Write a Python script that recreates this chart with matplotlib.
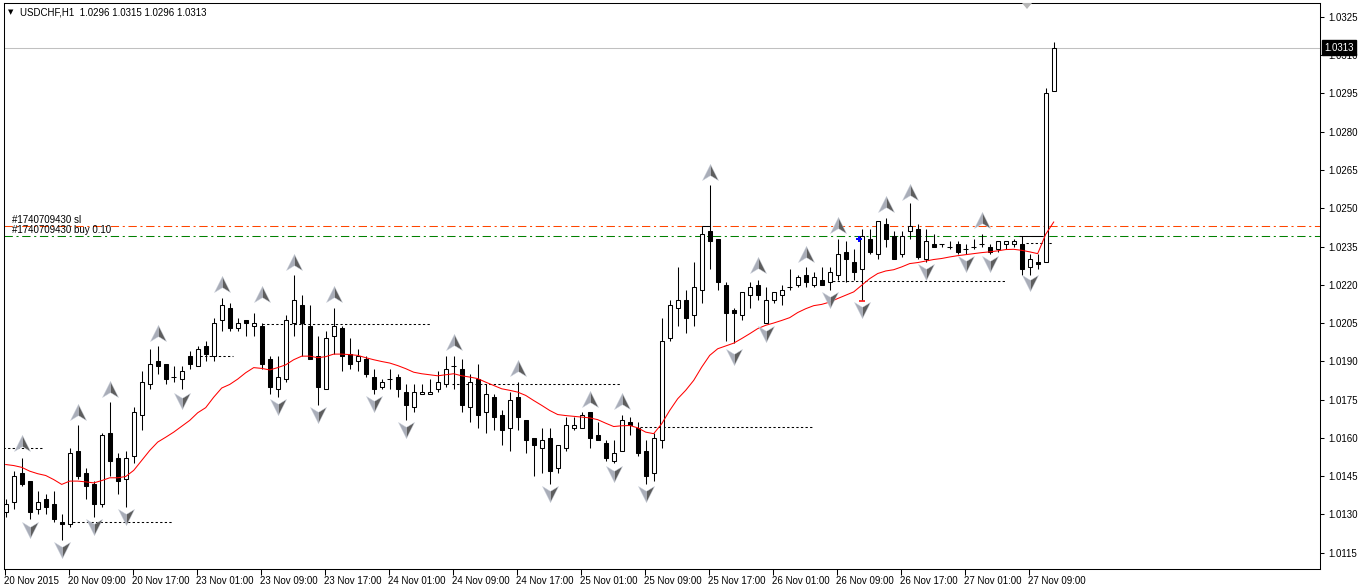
import matplotlib
matplotlib.use("Agg")
import matplotlib.pyplot as plt
import matplotlib.transforms as mtransforms
from matplotlib.patches import Rectangle, Polygon
from matplotlib.path import Path

plt.rcParams['font.family'] = ['Liberation Sans', 'DejaVu Sans']

# ---------------- data (USDCHF, H1) ----------------
opens = [1.0131, 1.0135, 1.0146, 1.0143, 1.0132, 1.0136, 1.0134, 1.0127, 1.0126, 1.0155,
         1.0146, 1.0142, 1.0134, 1.0162, 1.0152, 1.0144, 1.0153, 1.0169, 1.0181, 1.0190,
         1.0189, 1.0184, 1.0183, 1.0192, 1.0188, 1.0196, 1.0192, 1.0206, 1.0211, 1.0203,
         1.0206, 1.0204, 1.0204, 1.0191, 1.0179, 1.0183, 1.0205, 1.0212, 1.0204, 1.0192,
         1.0179, 1.0200, 1.0203, 1.0193, 1.0190, 1.0191, 1.0184, 1.0180, 1.0183, 1.0184,
         1.0178, 1.0172, 1.0177, 1.0177, 1.0179, 1.0181, 1.0188, 1.0187, 1.0172, 1.0183,
         1.0170, 1.0176, 1.0169, 1.0164, 1.0176, 1.0167, 1.0160, 1.0156, 1.0160, 1.0148,
         1.0156, 1.0164, 1.0164, 1.0170, 1.0161, 1.0158, 1.0151, 1.0155, 1.0166, 1.0164,
         1.0155, 1.0146, 1.0159, 1.0199, 1.0211, 1.0214, 1.0208, 1.0218, 1.0241, 1.0238,
         1.0220, 1.0210, 1.0208, 1.0216, 1.0220, 1.0205, 1.0214, 1.0216, 1.0219, 1.0220,
         1.0224, 1.0220, 1.0222, 1.0221, 1.0224, 1.0233, 1.0229, 1.0226, 1.0238, 1.0232,
         1.0244, 1.0239, 1.0232, 1.0241, 1.0242, 1.0230, 1.0236, 1.0236, 1.0235, 1.0236,
         1.0234, 1.0235, 1.0236, 1.0235, 1.0234, 1.0236, 1.0236, 1.0236, 1.0227, 1.0229,
         1.0229, 1.0296]
highs = [1.0136, 1.0147, 1.0152, 1.0143, 1.0139, 1.0138, 1.0139, 1.0130, 1.0156, 1.0165,
         1.0148, 1.0143, 1.0162, 1.0174, 1.0154, 1.0155, 1.0172, 1.0186, 1.0195, 1.0196,
         1.0189, 1.0188, 1.0188, 1.0194, 1.0196, 1.0198, 1.0207, 1.0215, 1.0213, 1.0207,
         1.0206, 1.0209, 1.0205, 1.0192, 1.0192, 1.0208, 1.0224, 1.0216, 1.0212, 1.0200,
         1.0202, 1.0211, 1.0204, 1.0199, 1.0195, 1.0192, 1.0187, 1.0183, 1.0187, 1.0185,
         1.0181, 1.0181, 1.0181, 1.0183, 1.0186, 1.0192, 1.0192, 1.0191, 1.0185, 1.0189,
         1.0181, 1.0177, 1.0171, 1.0178, 1.0182, 1.0167, 1.0160, 1.0164, 1.0164, 1.0157,
         1.0168, 1.0168, 1.0170, 1.0170, 1.0166, 1.0159, 1.0159, 1.0169, 1.0168, 1.0166,
         1.0159, 1.0162, 1.0207, 1.0214, 1.0227, 1.0218, 1.0229, 1.0243, 1.0259, 1.0238,
         1.0221, 1.0211, 1.0217, 1.0221, 1.0222, 1.0219, 1.0217, 1.0220, 1.0226, 1.0224,
         1.0227, 1.0225, 1.0227, 1.0227, 1.0238, 1.0237, 1.0234, 1.0242, 1.0242, 1.0245,
         1.0246, 1.0241, 1.0241, 1.0252, 1.0244, 1.0242, 1.0240, 1.0236, 1.0237, 1.0237,
         1.0236, 1.0238, 1.0240, 1.0236, 1.0237, 1.0237, 1.0238, 1.0239, 1.0232, 1.0232,
         1.0297, 1.0315]
lows = [1.0129, 1.0132, 1.0141, 1.0128, 1.0130, 1.0130, 1.0127, 1.0120, 1.0125, 1.0144,
        1.0136, 1.0129, 1.0133, 1.0145, 1.0138, 1.0133, 1.0150, 1.0163, 1.0179, 1.0185,
        1.0181, 1.0182, 1.0179, 1.0187, 1.0188, 1.0190, 1.0190, 1.0202, 1.0202, 1.0202,
        1.0200, 1.0200, 1.0187, 1.0177, 1.0176, 1.0182, 1.0200, 1.0192, 1.0191, 1.0173,
        1.0179, 1.0193, 1.0186, 1.0187, 1.0186, 1.0184, 1.0177, 1.0179, 1.0179, 1.0176,
        1.0167, 1.0170, 1.0177, 1.0177, 1.0178, 1.0180, 1.0179, 1.0170, 1.0166, 1.0164,
        1.0162, 1.0163, 1.0157, 1.0155, 1.0163, 1.0154, 1.0145, 1.0146, 1.0142, 1.0146,
        1.0155, 1.0163, 1.0164, 1.0156, 1.0159, 1.0151, 1.0150, 1.0155, 1.0161, 1.0153,
        1.0142, 1.0143, 1.0156, 1.0198, 1.0204, 1.0201, 1.0204, 1.0213, 1.0226, 1.0218,
        1.0198, 1.0197, 1.0206, 1.0211, 1.0214, 1.0205, 1.0213, 1.0212, 1.0218, 1.0219,
        1.0219, 1.0219, 1.0220, 1.0218, 1.0222, 1.0221, 1.0222, 1.0214, 1.0232, 1.0230,
        1.0235, 1.0230, 1.0231, 1.0238, 1.0230, 1.0229, 1.0235, 1.0235, 1.0234, 1.0232,
        1.0232, 1.0234, 1.0235, 1.0232, 1.0233, 1.0234, 1.0235, 1.0224, 1.0224, 1.0226,
        1.0229, 1.0296]
closes = [1.0134, 1.0145, 1.0142, 1.0131, 1.0135, 1.0133, 1.0128, 1.0126, 1.0154, 1.0145,
          1.0141, 1.0134, 1.0161, 1.0151, 1.0143, 1.0152, 1.0170, 1.0182, 1.0189, 1.0188,
          1.0183, 1.0184, 1.0186, 1.0189, 1.0195, 1.0193, 1.0205, 1.0212, 1.0203, 1.0205,
          1.0205, 1.0205, 1.0189, 1.0180, 1.0184, 1.0206, 1.0214, 1.0205, 1.0191, 1.0180,
          1.0199, 1.0204, 1.0192, 1.0189, 1.0192, 1.0185, 1.0179, 1.0182, 1.0183, 1.0179,
          1.0173, 1.0178, 1.0178, 1.0178, 1.0182, 1.0187, 1.0188, 1.0173, 1.0182, 1.0169,
          1.0177, 1.0168, 1.0163, 1.0175, 1.0168, 1.0159, 1.0157, 1.0159, 1.0147, 1.0157,
          1.0165, 1.0165, 1.0169, 1.0160, 1.0159, 1.0152, 1.0154, 1.0167, 1.0165, 1.0154,
          1.0145, 1.0160, 1.0198, 1.0212, 1.0214, 1.0207, 1.0219, 1.0240, 1.0237, 1.0221,
          1.0209, 1.0209, 1.0217, 1.0219, 1.0216, 1.0214, 1.0217, 1.0218, 1.0219, 1.0223,
          1.0221, 1.0223, 1.0220, 1.0225, 1.0232, 1.0230, 1.0225, 1.0239, 1.0233, 1.0245,
          1.0238, 1.0230, 1.0239, 1.0243, 1.0231, 1.0237, 1.0235, 1.0236, 1.0235, 1.0233,
          1.0234, 1.0235, 1.0236, 1.0233, 1.0237, 1.0237, 1.0237, 1.0226, 1.0230, 1.0228,
          1.0295, 1.0313]

# red moving average
ma_values = [1.01495, 1.01491, 1.01484, 1.01469, 1.01459, 1.01452, 1.01436, 1.01417, 1.01430, 1.01430,
             1.01427, 1.01423, 1.01432, 1.01443, 1.01443, 1.01448, 1.01472, 1.01511, 1.01550, 1.01583,
             1.01602, 1.01622, 1.01645, 1.01668, 1.01698, 1.01718, 1.01759, 1.01795, 1.01809, 1.01830,
             1.01855, 1.01875, 1.01872, 1.01866, 1.01875, 1.01886, 1.01906, 1.01920, 1.01920, 1.01914,
             1.01918, 1.01928, 1.01928, 1.01926, 1.01923, 1.01914, 1.01906, 1.01899, 1.01893, 1.01883,
             1.01871, 1.01857, 1.01851, 1.01847, 1.01843, 1.01847, 1.01851, 1.01843, 1.01838, 1.01832,
             1.01818, 1.01805, 1.01792, 1.01786, 1.01779, 1.01766, 1.01746, 1.01727, 1.01707, 1.01691,
             1.01687, 1.01684, 1.01681, 1.01678, 1.01671, 1.01657, 1.01644, 1.01647, 1.01648, 1.01639,
             1.01622, 1.01616, 1.01655, 1.01707, 1.01753, 1.01786, 1.01825, 1.01877, 1.01923, 1.01949,
             1.01960, 1.01971, 1.01989, 1.02008, 1.02028, 1.02041, 1.02050, 1.02060, 1.02071, 1.02091,
             1.02106, 1.02118, 1.02123, 1.02132, 1.02146, 1.02159, 1.02172, 1.02198, 1.02224, 1.02244,
             1.02254, 1.02259, 1.02270, 1.02283, 1.02287, 1.02293, 1.02299, 1.02303, 1.02309, 1.02314,
             1.02318, 1.02322, 1.02326, 1.02329, 1.02333, 1.02338, 1.02339, 1.02335, 1.02329, 1.02322,
             1.02398, 1.02446]

# fractal arrows (bar index, price of the arrow icon)
up_bars = [2, 9, 13, 19, 27, 32, 36, 41, 56, 64, 73, 77, 88, 94, 100, 104, 110, 113, 122]
up_prices = [1.01578, 1.01700, 1.01792, 1.02011, 1.02202, 1.02165, 1.02289, 1.02165, 1.01975, 1.01875,
             1.01753, 1.01744, 1.02643, 1.02276, 1.02322, 1.02433, 1.02516, 1.02564, 1.02453]
down_bars = [3, 7, 11, 15, 22, 34, 39, 46, 50, 68, 76, 80, 91, 95, 103, 107, 115, 120, 123, 128]
down_prices = [1.01240, 1.01161, 1.01249, 1.01288, 1.01746, 1.01720, 1.01691, 1.01731, 1.01629, 1.01380,
               1.01459, 1.01380, 1.01916, 1.02008, 1.02139, 1.02100, 1.02250, 1.02283, 1.02283, 1.02205]

# dotted levels: start bar, end bar, price
level_start = [-0.3, 7.8, 24.3, 32.0, 55.8, 79.3, 102.8, 127.5]
level_end = [4.7, 20.8, 28.4, 53.0, 76.8, 100.8, 124.9, 130.8]
level_price = [1.01559, 1.01271, 1.01922, 1.02045, 1.01812, 1.01641, 1.02214, 1.02362]

# short solid segments on the trade lines
seg_start = [87.0, 126.7]
seg_end = [88.0, 129.7]
seg_price = [1.02432, 1.02393]

sl_price = 1.02432
buy_price = 1.02393
bid_price = 1.0313
order_bar, order_price = 106.6, 1.0238

price_ticks = [1.0115, 1.0130, 1.0145, 1.0160, 1.0175, 1.0190, 1.0205, 1.0220,
               1.0235, 1.0250, 1.0265, 1.0280, 1.0295, 1.0310, 1.0325]
time_bars = [0, 8, 16, 24, 32, 40, 48, 56, 64, 72, 80, 88, 96, 104, 112, 120, 128]
time_labels = ['20 Nov 2015', '20 Nov 09:00', '20 Nov 17:00', '23 Nov 01:00', '23 Nov 09:00',
               '23 Nov 17:00', '24 Nov 01:00', '24 Nov 09:00', '24 Nov 17:00', '25 Nov 01:00',
               '25 Nov 09:00', '25 Nov 17:00', '26 Nov 01:00', '26 Nov 09:00', '26 Nov 17:00',
               '27 Nov 01:00', '27 Nov 09:00']

# ---------------- figure ----------------
W, H = 1362, 587
fig = plt.figure(figsize=(W / 100, H / 100), dpi=100)
fig.patch.set_facecolor('white')
pl, pr, pt, pb = 4, 1320, 3, 569
ax = fig.add_axes([pl / W, 1 - pb / H, (pr - pl) / W, (pb - pt) / H])
ax.set_xlim((pl - 5.7) / 8, (pr - 5.7) / 8)
ax.set_ylim(1.010853, 1.033049)

LW = 0.75

# candles
for i in range(len(opens)):
    o, h, l, c = opens[i], highs[i], lows[i], closes[i]
    ax.vlines(i, l, h, color='black', lw=LW, zorder=2)
    if c > o:
        ax.add_patch(Rectangle((i - 0.27, o), 0.54, c - o, fc='white', ec='black', lw=LW, zorder=3))
    elif c < o:
        ax.add_patch(Rectangle((i - 0.27, c), 0.54, o - c, fc='black', ec='black', lw=LW, zorder=3))
    else:
        ax.hlines(o, i - 0.3, i + 0.3, color='black', lw=LW, zorder=3)

# bid line
ax.axhline(bid_price, color='#C0C0C0', lw=LW, zorder=1)

# dotted levels
for s, e, p in zip(level_start, level_end, level_price):
    ax.hlines(p, s, e, color='black', lw=LW, linestyles=(0, (2.2, 2.2)), zorder=2)

# trade lines
ax.axhline(sl_price, color='#FF4500', lw=LW, linestyle=(0, (8, 3.5, 2, 3.5)), zorder=1.5)
ax.axhline(buy_price, color='#008000', lw=LW, linestyle=(0, (8, 3.5, 2, 3.5)), zorder=1.5)
for s, e, p in zip(seg_start, seg_end, seg_price):
    ax.hlines(p, s, e, color='black', lw=LW, zorder=2)
ax.text(0.8, sl_price + 0.00003, '#1740709430 sl', fontsize=7, ha='left', va='bottom', zorder=6)
ax.text(0.8, buy_price + 0.00003, '#1740709430 buy 0.10', fontsize=7, ha='left', va='bottom', zorder=6)

# moving average
ax.plot(range(len(ma_values)), ma_values, color='red', lw=LW, zorder=4)

# order markers
ax.plot([order_bar], [order_price], marker='P', color='#0000FF', ms=5, mew=0, zorder=6)
ax.hlines(1.02135, 106.6, 107.35, color='red', lw=1.1, zorder=6)

# fractal arrow icons (two shaded halves)
up_left = Path([(0, 0.9), (-0.9, -0.9), (0, -0.35), (0, 0.9)], closed=True)
up_right = Path([(0, 0.9), (0, -0.35), (0.9, -0.9), (0, 0.9)], closed=True)
dn_left = Path([(0, -0.9), (-0.9, 0.9), (0, 0.35), (0, -0.9)], closed=True)
dn_right = Path([(0, -0.9), (0, 0.35), (0.9, 0.9), (0, -0.9)], closed=True)
for mk, col in ((up_left, '#A9ADB8'), (up_right, '#5E5E5E')):
    ax.plot(up_bars, up_prices, ls='none', marker=mk, ms=11.5, color=col,
            mec='#C8CEDA', mew=0.3, zorder=5)
for mk, col in ((dn_left, '#A9ADB8'), (dn_right, '#5E5E5E')):
    ax.plot(down_bars, down_prices, ls='none', marker=mk, ms=11.5, color=col,
            mec='#C8CEDA', mew=0.3, zorder=5)

# axes look
for sp in ax.spines.values():
    sp.set_linewidth(LW)
    sp.set_color('black')
ax.yaxis.tick_right()
ax.set_yticks(price_ticks)
ax.set_yticklabels(['%.4f' % p for p in price_ticks])
ax.tick_params(axis='y', direction='out', length=3, width=LW, pad=3, labelsize=7)
ax.set_xticks([b - 0.15 for b in time_bars])
ax.set_xticklabels(time_labels)
for lbl in ax.get_xticklabels():
    lbl.set_ha('left')
ax.tick_params(axis='x', direction='out', length=4, width=LW, pad=1, labelsize=7)

# current price box
blend = mtransforms.blended_transform_factory(ax.transAxes, ax.transData)
ax.text(1 + 4 / (pr - pl), bid_price, '1.0313', transform=blend, ha='left', va='center',
        fontsize=7, color='white', clip_on=False, zorder=10,
        bbox=dict(boxstyle='square,pad=0.25', fc='black', ec='black'))

# header
fig.text(8 / W, 1 - 12.5 / H, '\u25BC', fontsize=5, va='center', ha='left',
         family=['DejaVu Sans'])
fig.text(20 / W, 1 - 12.5 / H, 'USDCHF,H1  1.0296 1.0315 1.0296 1.0313', fontsize=7,
         va='center', ha='left')

# chart shift marker
fig.add_artist(Polygon([(1022 / W, 1 - 3 / H), (1032 / W, 1 - 3 / H), (1027 / W, 1 - 9 / H)],
                       closed=True, fc='#B8B8B8', ec='none', transform=fig.transFigure))

fig.savefig('out.png', dpi=100)
